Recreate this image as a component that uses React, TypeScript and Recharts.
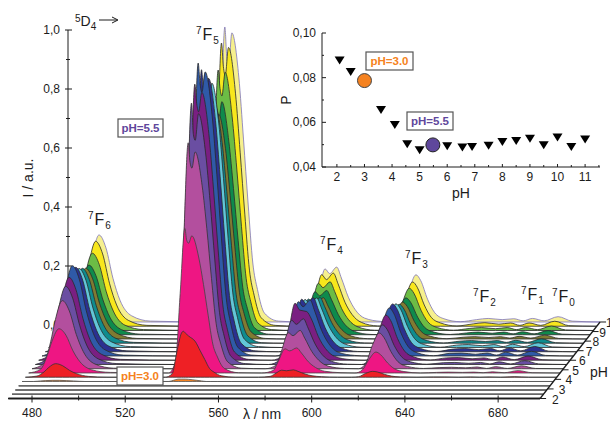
import React from "react";
import { ComposedChart, ScatterChart, Area, Scatter, XAxis, YAxis, ReferenceLine } from "recharts";

// Shared wavelength grid (nm) for the spectra
const lambda = [
  470, 475, 478, 480, 483, 486, 489, 492, 497, 505,
  530, 533, 535, 537, 537.8, 538.6, 540, 543, 545, 547, 549, 551, 554, 560,
  570, 575, 577, 580, 582, 585, 587, 590, 593, 597, 604,
  610, 613, 616, 619, 621, 624, 627, 631, 638,
  645, 650, 656, 661, 665, 669, 674, 680, 686, 698,
];

// Spectra, back row first; one value per entry of lambda
const s11 = [0,.024,.118,.212,.295,.251,.148,.074,.021,.003, 0,.08,.55,1.0,.9,.86,.98,.83,.62,.4,.2,.11,.03,.003, 0,.019,.084,.18,.164,.186,.149,.084,.041,.013,.002, 0,.019,.104,.16,.141,.077,.032,.011,.001, .008,.012,.008,.011,.004,.012,.004,.018,.003,0];
const s105 = [0,.023,.115,.207,.288,.245,.144,.072,.02,.003, 0,.077,.53,.96,.88,.85,.945,.79,.59,.38,.19,.105,.029,.003, 0,.018,.081,.175,.158,.18,.144,.081,.04,.013,.001, 0,.018,.098,.15,.132,.072,.03,.011,.001, .008,.012,.007,.011,.003,.011,.003,.017,.002,0];
const s10 = [0,.021,.105,.189,.262,.223,.131,.066,.018,.003, 0,.071,.486,.883,.82,.795,.875,.724,.547,.353,.177,.097,.026,.003, 0,.017,.074,.16,.145,.165,.132,.074,.036,.012,.001, 0,.017,.093,.143,.126,.069,.029,.01,.001, .007,.01,.006,.01,.003,.01,.003,.015,.002,0];
const s95 = [0,.019,.094,.17,.236,.2,.118,.059,.017,.002, 0,.064,.44,.8,.75,.72,.79,.656,.496,.32,.16,.088,.024,.002, 0,.015,.068,.146,.132,.15,.12,.068,.033,.011,.001, 0,.015,.081,.125,.11,.06,.025,.009,.001, .006,.009,.005,.009,.003,.01,.003,.014,.002,0];
const s9 = [0,.019,.096,.173,.24,.204,.12,.06,.017,.002, 0,.063,.432,.786,.73,.707,.762,.645,.487,.314,.157,.086,.024,.002, 0,.014,.063,.136,.123,.14,.112,.063,.031,.01,.001, 0,.015,.081,.125,.11,.06,.025,.009,.001, .006,.008,.005,.008,.003,.009,.003,.013,.002,0];
const s85 = [0,.02,.102,.183,.254,.216,.127,.064,.018,.003, 0,.066,.456,.83,.772,.747,.805,.68,.515,.332,.166,.091,.025,.002, 0,.016,.07,.15,.136,.155,.124,.07,.034,.011,.001, 0,.016,.086,.132,.116,.063,.026,.009,.001, .007,.009,.006,.009,.003,.01,.003,.015,.002,0];
const s8 = [0,.021,.107,.193,.268,.228,.134,.067,.019,.003, 0,.074,.508,.924,.86,.83,.896,.758,.573,.37,.185,.102,.028,.003, 0,.017,.076,.163,.148,.168,.134,.076,.037,.012,.001, 0,.018,.096,.148,.13,.071,.03,.01,.001, .008,.01,.006,.01,.003,.011,.003,.016,.002,0];
const s75 = [0,.023,.114,.206,.286,.243,.143,.072,.02,.003, 0,.076,.526,.956,.889,.86,.927,.784,.593,.382,.191,.105,.029,.003, 0,.018,.082,.178,.161,.183,.146,.082,.04,.013,.001, 0,.019,.105,.162,.143,.078,.032,.011,.001, .009,.011,.007,.011,.003,.013,.003,.018,.002,0];
const s69 = [0,.024,.122,.22,.306,.26,.153,.077,.021,.003, 0,.079,.546,.993,.924,.894,.963,.814,.616,.397,.199,.109,.03,.003, 0,.019,.086,.184,.167,.19,.152,.086,.042,.013,.002, 0,.02,.106,.163,.143,.078,.033,.011,.001, .009,.01,.006,.01,.003,.013,.003,.016,.002,0];
const s655 = [0,.022,.112,.202,.281,.239,.141,.07,.02,.003, 0,.075,.515,.936,.87,.842,.908,.768,.58,.374,.187,.103,.028,.003, 0,.019,.087,.193,.17,.165,.14,.08,.04,.013,.002, 0,.018,.099,.153,.135,.073,.031,.011,.001, .008,.009,.005,.008,.002,.011,.002,.014,.002,0];
const s6 = [0,.021,.106,.191,.265,.225,.133,.066,.019,.003, 0,.071,.487,.886,.78,.76,.85,.72,.55,.354,.177,.097,.027,.003, 0,.016,.07,.15,.136,.155,.124,.07,.034,.011,.001, 0,.016,.087,.134,.118,.064,.027,.009,.001, .006,.007,.004,.007,.002,.009,.002,.013,.002,0];
const s55 = [0,.018,.092,.166,.231,.196,.116,.058,.016,.002, 0,.061,.421,.766,.7,.68,.735,.62,.475,.306,.153,.084,.023,.002, 0,.013,.059,.122,.112,.13,.104,.059,.029,.009,.001, 0,.015,.079,.121,.106,.058,.024,.008,.001, .004,.005,.003,.006,.001,.007,.001,.01,.001,0];
const s5 = [0,.012,.06,.108,.15,.128,.075,.038,.011,.002, 0,.039,.27,.49,.45,.44,.465,.39,.3,.196,.098,.054,.015,.001, 0,.009,.038,.082,.075,.085,.068,.038,.019,.006,.001, 0,.009,.046,.071,.062,.034,.014,.005,0, .002,.003,.002,.003,.001,.004,.001,.008,.001,0];
const s455 = [0,.004,.018,.033,.046,.039,.023,.012,.003,0, 0,.012,.086,.15,.156,.15,.14,.12,.09,.06,.03,.017,.005,0, 0,.003,.011,.024,.022,.025,.02,.011,.005,.002,0, 0,.002,.013,.02,.018,.01,.004,.001,0, .001,.001,0,.001,0,.001,0,.002,0,0];
const s41 = [0,0,.002,.003,.004,.004,.003,.002,0,0, 0,0,.004,.008,.008,.008,.008,.006,.004,.002,0,0,0,0, 0,0,0,0,0,0,0,0,0,0,0, 0,0,0,0,0,0,0,0,0, 0,0,0,0,0,0,0,0,0,0];
const flatLambda = [470, 698];
const flatRow = [0, 0];

const spectra = [s11, s105, s10, s95, s9, s85, s8, s75, s69, s655, s6, s55, s5, s455, s41, flatRow, flatRow, flatRow, flatRow];
const fills = ["#f6f08e", "#f8e71c", "#6cbc45", "#0e8a4c", "#7f7b32", "#0f8c8e", "#62c6d8", "#2b3190", "#2f5aa8", "#7a1f82", "#6a4ea2", "#b34f9e", "#ee1683", "#ee2025", "#f58220", "#ffffff", "#ffffff", "#ffffff", "#ffffff"];
const strokes = ["#7d74b8", "#2a2a2a", "#2a2a2a", "#2a2a2a", "#2a2a2a", "#2a2a2a", "#2a2a2a", "#2a2a2a", "#2a2a2a", "#2a2a2a", "#2a2a2a", "#333", "#444", "#333", "#555", "#666", "#666", "#666", "#666"];

// Waterfall depth per row, in axis units
const rowCount = 19;
const depthNm = 1.43;
const depthI = 0.01441;

const lambdaTicks = [480, 500, 520, 540, 560, 580, 600, 620, 640, 660, 680];
const lambdaLabels = [480, 520, 560, 600, 640, 680];
const intensityTicks = [0, 0.1, 0.2, 0.3, 0.4, 0.5, 0.6, 0.7, 0.8, 0.9, 1.0];
const intensityLabels = [0, 0.2, 0.4, 0.6, 0.8, 1.0];
const phAxisTicks = [2, 3, 4, 5, 6, 7, 8, 9, 10];

// Inset
const insetPh = [2.1, 2.5, 3.6, 4.1, 4.55, 5.0, 6.0, 6.55, 6.9, 7.5, 8, 8.5, 9, 9.5, 10, 10.5, 11];
const insetP = [0.0877, 0.0825, 0.0655, 0.0588, 0.0502, 0.0475, 0.0493, 0.0487, 0.049, 0.0495, 0.0512, 0.0516, 0.0527, 0.0497, 0.0532, 0.049, 0.0523];
const insetTicksX = [2, 2.5, 3, 3.5, 4, 4.5, 5, 5.5, 6, 6.5, 7, 7.5, 8, 8.5, 9, 9.5, 10, 10.5, 11, 11.5];
const insetTicksY = [0.04, 0.05, 0.06, 0.07, 0.08, 0.09, 0.1];
const insetMajorY = [0.04, 0.06, 0.08, 0.1];

const FONT = '"Liberation Sans", Arial, sans-serif';
const INK = "#1c1c1c";

const comma = (v: number, d: number) => v.toFixed(d).replace(".", ",");

const rowData = (row: number) => {
  const xs = spectra[row].length === 2 ? flatLambda : lambda;
  const off = (rowCount - 1 - row) * depthNm;
  const base = -row * depthI;
  return xs.map((l, i) => ({ x: l + off, y: [base, base + spectra[row][i]] }));
};

const phTickData = phAxisTicks.map((ph) => {
  const d = ((ph - 2) / 8) * (rowCount - 1);
  return { x: 698 + d * depthNm, v: -(rowCount - 1 - d) * depthI, ph };
});
const phEnd = [
  { x: 698, y: -(rowCount - 1) * depthI },
  { x: 698 + (rowCount - 1) * depthNm, y: 0 },
];

const LambdaTick = (p: any) => {
  const v = p.payload.value;
  const major = lambdaLabels.includes(v);
  return (
    <g>
      <line x1={p.x} x2={p.x} y1={p.y - 3} y2={p.y + (major ? 4 : 2)} stroke={INK} strokeWidth={1} />
      {major && (
        <text x={p.x} y={p.y + 18} textAnchor="middle" fontSize={12} fontFamily={FONT} fill={INK}>
          {v}
        </text>
      )}
    </g>
  );
};

const IntensityTick = (p: any) => {
  const v = p.payload.value;
  const major = intensityLabels.some((m) => Math.abs(m - v) < 1e-6);
  return (
    <g>
      <line x1={p.x - (major ? 3 : 2)} x2={p.x + (major ? 4 : 2)} y1={p.y} y2={p.y} stroke={INK} strokeWidth={1} />
      {major && (
        <text x={p.x - 8} y={p.y + 4} textAnchor="end" fontSize={12} fontFamily={FONT} fill={INK}>
          {comma(v, 1)}
        </text>
      )}
    </g>
  );
};

const PhAxisTick = (p: any) => (
  <g>
    <line x1={p.cx} x2={p.cx + 6} y1={p.cy} y2={p.cy} stroke={INK} strokeWidth={1} />
    <text x={p.cx + 12 - 0.75 * (p.payload.ph - 2)} y={p.cy + 5} fontSize={12} fontFamily={FONT} fill={INK}>
      {p.payload.ph}
    </text>
  </g>
);

const InsetTickX = (p: any) => {
  const v = p.payload.value;
  const major = Number.isInteger(v);
  return (
    <g>
      <line x1={p.x} x2={p.x} y1={p.y - (major ? 3 : 2)} y2={p.y} stroke={INK} strokeWidth={1} />
      {major && (
        <text x={p.x} y={p.y + 14} textAnchor="middle" fontSize={12} fontFamily={FONT} fill={INK}>
          {v}
        </text>
      )}
    </g>
  );
};

const InsetTickY = (p: any) => {
  const v = p.payload.value;
  const major = insetMajorY.some((m) => Math.abs(m - v) < 1e-6);
  return (
    <g>
      <line x1={p.x} x2={p.x + (major ? 4 : 2)} y1={p.y} y2={p.y} stroke={INK} strokeWidth={1} />
      {major && (
        <text x={p.x - 6} y={p.y + 4} textAnchor="end" fontSize={12} fontFamily={FONT} fill={INK}>
          {comma(v, 2)}
        </text>
      )}
    </g>
  );
};

const Triangle = (p: any) => (
  <path d={`M${p.cx - 5},${p.cy - 4}L${p.cx + 5},${p.cy - 4}L${p.cx},${p.cy + 4}Z`} fill="#000" />
);

const Term = ({ x, y, n }: { x: number; y: number; n: string }) => (
  <text x={x} y={y} fontFamily={FONT} fill={INK}>
    <tspan fontSize={10} dy={-6}>7</tspan>
    <tspan fontSize={16} dy={6} dx={1}>F</tspan>
    <tspan fontSize={10} dy={4} dx={1}>{n}</tspan>
  </text>
);

const Box = ({ x, y, w, h, color, label }: { x: number; y: number; w: number; h: number; color: string; label: string }) => (
  <g>
    <rect x={x} y={y} width={w} height={h} fill="#fff" stroke="#555" strokeWidth={1.2} />
    <text x={x + w / 2} y={y + h / 2 + 4} textAnchor="middle" fontSize={11.5} fontWeight={700} fontFamily={FONT} fill={color}>
      {label}
    </text>
  </g>
);

const layer: React.CSSProperties = { position: "absolute", left: 0, top: 0 };

export default function App() {
  return (
    <div style={{ position: "absolute", left: 0, top: 0, width: 610, height: 423, background: "#fff", overflow: "hidden" }}>
      {/* Back-plane intensity axis */}
      <div style={layer}>
        <ComposedChart width={610} height={423} margin={{ left: 67, right: 0, top: 30, bottom: 98 }} data={[{ x: 0, v: 0 }]}>
          <XAxis type="number" dataKey="x" domain={[0, 1]} hide />
          <YAxis
            type="number"
            domain={[0, 1]}
            orientation="left"
            width={1}
            ticks={intensityTicks}
            interval={0}
            tickLine={false}
            tickSize={0}
            tickMargin={0}
            tick={IntensityTick}
            axisLine={{ stroke: INK, strokeWidth: 1 }}
            allowDataOverflow
          />
        </ComposedChart>
      </div>

      {/* Waterfall */}
      <div style={layer}>
        <ComposedChart width={610} height={423} margin={{ left: 8, right: 0, top: 0, bottom: 0 }}>
          <XAxis
            type="number"
            dataKey="x"
            domain={[469.7, 728]}
            ticks={lambdaTicks}
            interval={0}
            height={24.5}
            axisLine={false}
            tickLine={false}
            tickSize={0}
            tickMargin={0}
            tick={LambdaTick}
          />
          <YAxis type="number" domain={[-0.2593, 1.0915]} hide />
          {spectra.map((_, row) => (
            <Area
              key={row}
              data={rowData(row)}
              dataKey="y"
              type="monotone"
              fill={fills[row]}
              fillOpacity={1}
              stroke={strokes[row]}
              strokeWidth={row > 14 ? 1.3 : 0.8}
              dot={false}
              activeDot={false}
              isAnimationActive={false}
            />
          ))}
          <ReferenceLine
            segment={[{ x: 469.7, y: phEnd[0].y }, phEnd[0]]}
            stroke={INK}
            strokeWidth={1.3}
            ifOverflow="visible"
          />
          <ReferenceLine segment={phEnd} stroke={INK} strokeWidth={1.3} ifOverflow="visible" />
          <Scatter data={phTickData} dataKey="v" shape={PhAxisTick} isAnimationActive={false} />
        </ComposedChart>
      </div>

      {/* Inset */}
      <div style={layer}>
        <ScatterChart width={610} height={423} margin={{ left: 321, right: 10, top: 33, bottom: 226 }}>
          <XAxis
            type="number"
            dataKey="x"
            domain={[1.46, 11.54]}
            allowDataOverflow
            ticks={insetTicksX}
            interval={0}
            height={30}
            tickLine={false}
            tickSize={0}
            tickMargin={0}
            tick={InsetTickX}
            axisLine={{ stroke: INK, strokeWidth: 1 }}
          />
          <YAxis
            type="number"
            dataKey="p"
            domain={[0.04, 0.1]}
            allowDataOverflow
            ticks={insetTicksY}
            interval={0}
            width={1}
            tickLine={false}
            tickSize={0}
            tickMargin={0}
            tick={InsetTickY}
            axisLine={{ stroke: INK, strokeWidth: 1 }}
          />
          <Scatter
            data={insetPh.map((x, i) => ({ x, p: insetP[i] }))}
            shape={Triangle}
            isAnimationActive={false}
          />
          <Scatter data={[{ x: 3.0, p: 0.0787 }]} fill="#f58220" stroke="#333" shape={(p: any) => <circle cx={p.cx} cy={p.cy} r={7} fill="#f58220" stroke="#444" />} isAnimationActive={false} />
          <Scatter data={[{ x: 5.48, p: 0.0499 }]} shape={(p: any) => <circle cx={p.cx} cy={p.cy} r={7} fill="#5f479c" stroke="#222" />} isAnimationActive={false} />
        </ScatterChart>
      </div>

      {/* Annotations */}
      <svg width={610} height={423} style={{ ...layer, pointerEvents: "none" }}>
        <text x={0} y={0} transform="translate(33,178) rotate(-90)" textAnchor="middle" fontSize={14} fontFamily={FONT} fill={INK}>I / a.u.</text>
        <text x={262} y={419} textAnchor="middle" fontSize={14} fontFamily={FONT} fill={INK}>λ / nm</text>
        <text x={590} y={377} fontSize={14} fontFamily={FONT} fill={INK}>pH</text>
        <text x={461} y={198} textAnchor="middle" fontSize={14} fontFamily={FONT} fill={INK}>pH</text>
        <text x={0} y={0} transform="translate(291,100) rotate(-90)" textAnchor="middle" fontSize={14} fontFamily={FONT} fill={INK}>P</text>
        <text x={75} y={26} fontFamily={FONT} fill={INK}>
          <tspan fontSize={10} dy={-4}>5</tspan>
          <tspan fontSize={14} dy={4}>D</tspan>
          <tspan fontSize={10} dy={4}>4</tspan>
        </text>
        <line x1={99} y1={20} x2={117} y2={20} stroke={INK} strokeWidth={1} />
        <path d="M112,17L118,20L112,23" fill="none" stroke={INK} strokeWidth={1} />
        <Term x={88} y={225} n="6" />
        <Term x={196} y={40} n="5" />
        <Term x={320} y={250} n="4" />
        <Term x={405} y={264} n="3" />
        <Term x={473} y={302} n="2" />
        <Term x={521} y={300} n="1" />
        <Term x={552} y={302} n="0" />
        <Box x={118} y={119} w={45} h={18} color="#5f479c" label="pH=5.5" />
        <Box x={117} y={367} w={46} h={18} color="#f58220" label="pH=3.0" />
        <Box x={366} y={52} w={47} h={18} color="#f58220" label="pH=3.0" />
        <Box x={407} y={112} w={46} h={18} color="#5f479c" label="pH=5.5" />
      </svg>
    </div>
  );
}
